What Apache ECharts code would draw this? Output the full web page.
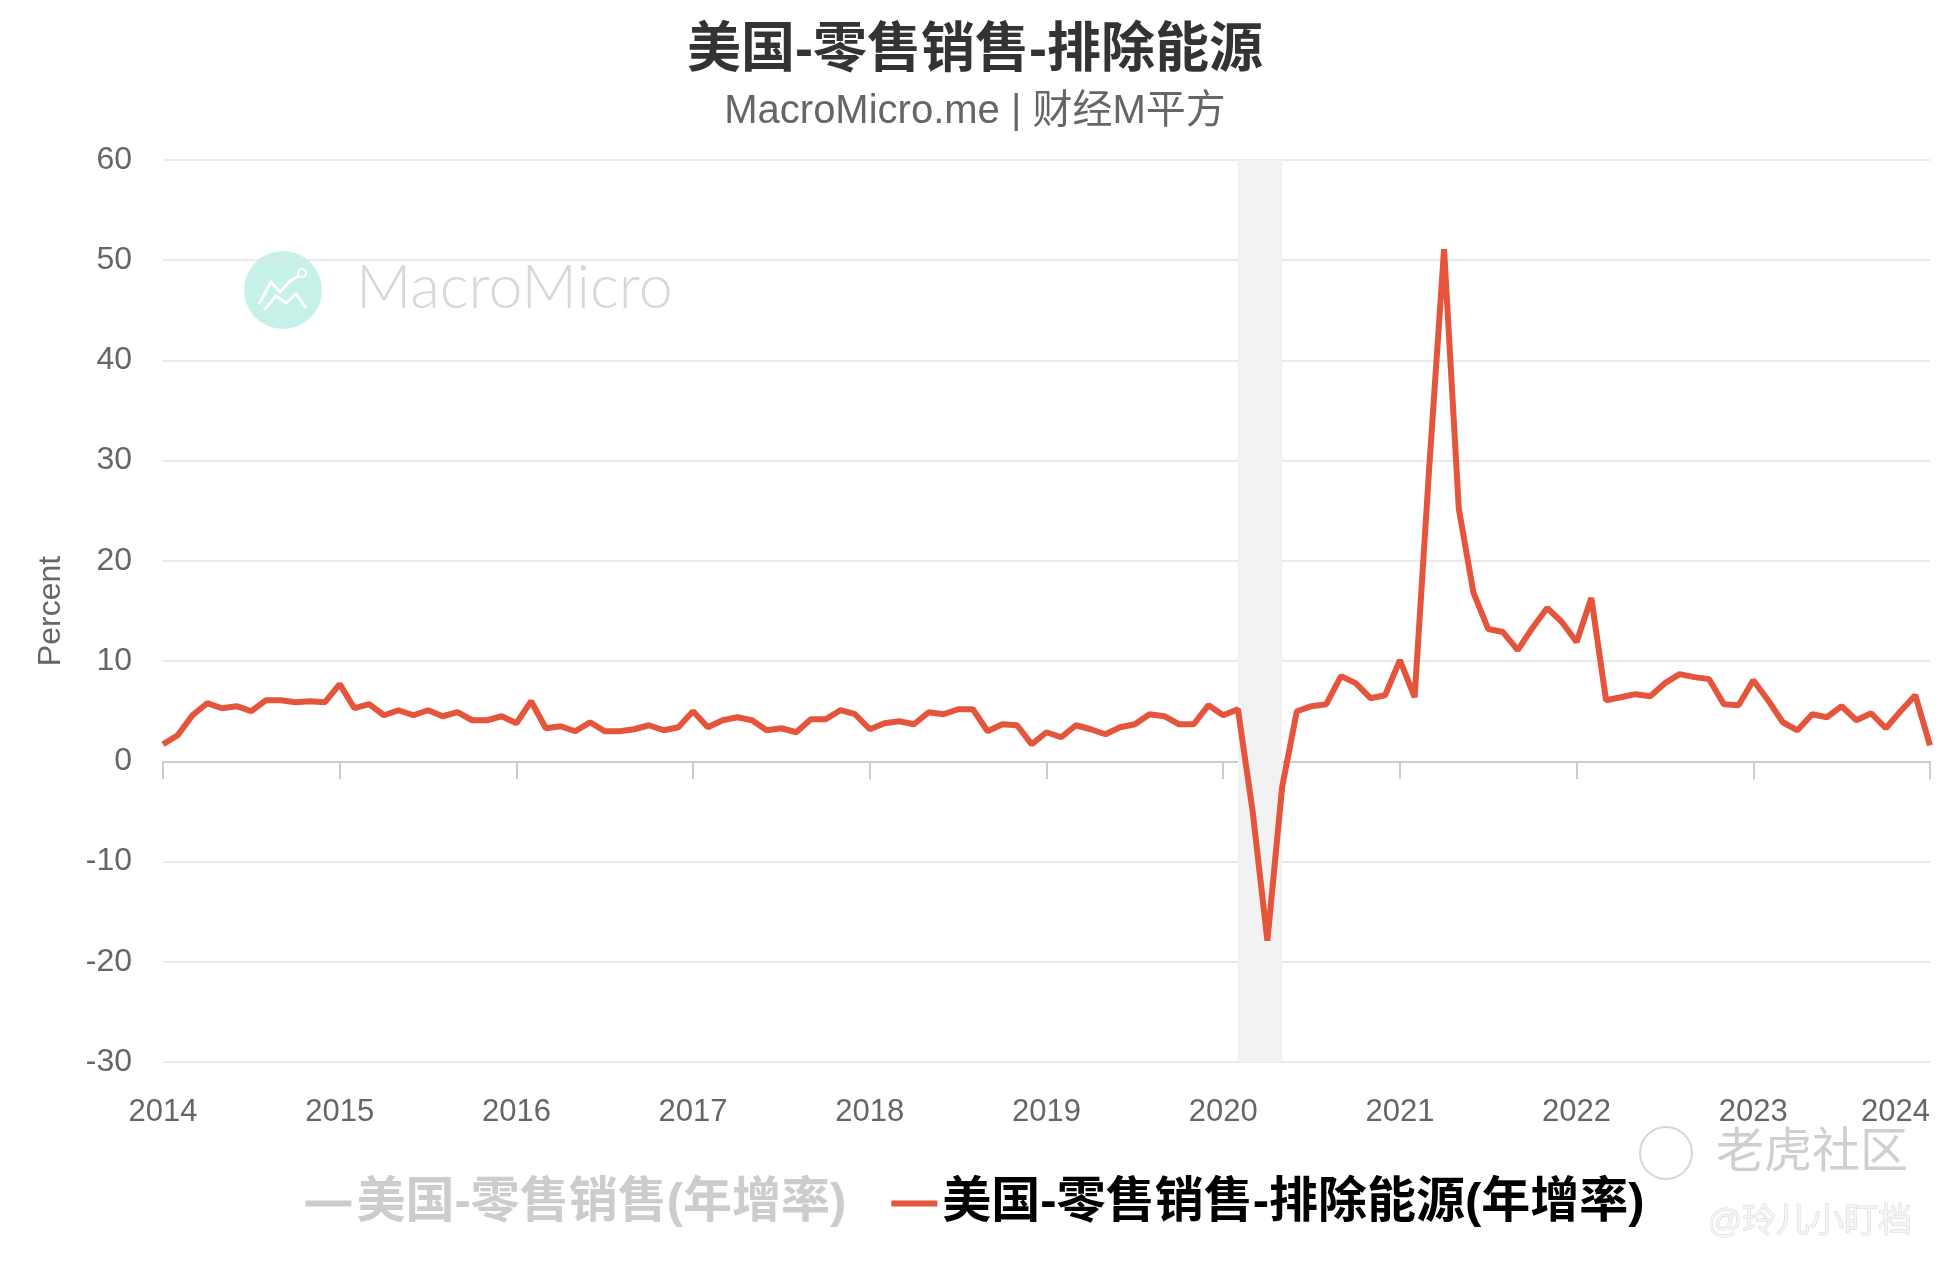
<!DOCTYPE html>
<html>
<head>
<meta charset="utf-8">
<title>美国-零售销售-排除能源</title>
<script src="https://cdn.jsdelivr.net/npm/echarts@6/dist/echarts.min.js"></script>
<style>
  html, body { margin: 0; padding: 0; background: #fff; }
  #chart { width: 1950px; height: 1270px; }
</style>
</head>
<body>
<div id="chart"></div>
<script>
// 月度数据：2014-01 ~ 2024-01，年增率 (%)
const startYear = 2014;
const retailExEnergy = [
  1.7, 2.6, 4.6, 5.8, 5.3, 5.5, 5.0, 6.1, 6.1, 5.9, 6.0, 5.9,    // 2014
  7.7, 5.3, 5.7, 4.6, 5.1, 4.6, 5.1, 4.5, 4.9, 4.1, 4.1, 4.5,    // 2015
  3.8, 6.0, 3.3, 3.5, 3.0, 3.9, 3.0, 3.0, 3.2, 3.6, 3.1, 3.4,    // 2016
  5.0, 3.4, 4.1, 4.4, 4.1, 3.1, 3.3, 2.9, 4.2, 4.2, 5.1, 4.7,    // 2017
  3.2, 3.8, 4.0, 3.7, 4.9, 4.7, 5.2, 5.2, 3.0, 3.7, 3.6, 1.7,    // 2018
  2.9, 2.4, 3.6, 3.2, 2.7, 3.4, 3.7, 4.7, 4.5, 3.7, 3.7, 5.6,    // 2019
  4.6, 5.2, -5.0, -17.9, -2.6, 5.0, 5.5, 5.7, 8.5, 7.8, 6.3, 6.6, // 2020
  10.1, 6.4, 29.5, 51.1, 25.2, 16.8, 13.2, 12.9, 11.1, 13.3, 15.3, 13.9, // 2021
  11.9, 16.3, 6.1, 6.4, 6.7, 6.5, 7.8, 8.7, 8.4, 8.2, 5.7, 5.6,  // 2022
  8.1, 6.1, 3.9, 3.1, 4.7, 4.4, 5.5, 4.1, 4.8, 3.3, 5.0, 6.6,    // 2023
  1.6                                                            // 2024
];
const retailTotal = []; // 图例中未选中，不绘制
const recession = ["2020-02", "2020-05"];
const yTicks = { min: -30, max: 60, interval: 10 };

const months = retailExEnergy.map((v, i) => {
  const y = startYear + Math.floor(i / 12);
  const m = (i % 12) + 1;
  return y + "-" + (m < 10 ? "0" + m : m);
});

const nameAll = "美国-零售销售(年增率)";
const nameEx = "美国-零售销售-排除能源(年增率)";
const lineColor = "#e5553c";
const font = "'Liberation Sans', 'Noto Sans CJK SC', sans-serif";

const options = {
  backgroundColor: "#fff",
  textStyle: { fontFamily: font },
  title: {
    text: "美国-零售销售-排除能源",
    subtext: "MacroMicro.me | 财经M平方",
    left: "center",
    top: 20,
    itemGap: 13,
    textStyle: { fontSize: 54, fontWeight: "bold", color: "#333", fontFamily: font },
    subtextStyle: { fontSize: 40, color: "#666", fontFamily: font },
  },
  legend: {
    data: [nameAll, nameEx],
    selected: { [nameAll]: false },
    left: "center",
    top: 1174,
    icon: "rect",
    itemWidth: 46,
    itemHeight: 6,
    itemGap: 45,
    inactiveColor: "#ccc",
    textStyle: { fontSize: 49, fontWeight: "bold", color: "#000", fontFamily: font },
  },
  graphic: [
    // MacroMicro 水印
    { type: "circle", z: -10, shape: { cx: 283, cy: 290, r: 39 }, style: { fill: "#c6f1e8" } },
    {
      type: "polyline", z: -9,
      shape: { points: [[259, 304], [271, 282], [280, 292], [290, 281], [299, 276]] },
      style: { stroke: "#fff", lineWidth: 3, fill: null },
    },
    {
      type: "polyline", z: -9,
      shape: { points: [[264, 310], [276, 296], [286, 303], [296, 294], [306, 308]] },
      style: { stroke: "#fff", lineWidth: 3, fill: null },
    },
    { type: "circle", z: -9, shape: { cx: 302, cy: 273, r: 4 }, style: { fill: null, stroke: "#fff", lineWidth: 2 } },
    {
      type: "text", z: -10, left: 356, top: 258,
      style: { text: "MacroMicro", fontSize: 61, fontWeight: 300, fontFamily: "Lato, sans-serif", fill: "#d8d8d8" },
    },
    // 平台水印
    { type: "circle", shape: { cx: 1666, cy: 1153, r: 26 }, style: { fill: null, stroke: "#d6d6d6", lineWidth: 2 } },
    {
      type: "text", left: 1716, top: 1130,
      style: { text: "老虎社区", fontSize: 48, fontFamily: font, fill: "#cfcfd3" },
    },
    {
      type: "text", left: 1707, top: 1205,
      style: { text: "@玲儿小盯档", fontSize: 34, fontFamily: font, fill: "#f4f4f4", stroke: "#d8d8d8", lineWidth: 1 },
    },
  ],
  grid: { left: 163, right: 20, top: 160, bottom: 208 },
  xAxis: {
    type: "category",
    data: months,
    boundaryGap: false,
    axisLine: { lineStyle: { color: "#ccc", width: 2 } },
    axisTick: {
      length: 18,
      interval: (idx) => idx % 12 === 0,
      lineStyle: { color: "#ccc", width: 2 },
    },
    axisLabel: {
      interval: (idx) => idx % 12 === 0,
      formatter: (v) => v.slice(0, 4),
      fontSize: 31,
      color: "#666",
      margin: 35,
      alignMaxLabel: "right",
    },
    splitLine: { show: false },
  },
  yAxis: {
    type: "value",
    min: yTicks.min,
    max: yTicks.max,
    interval: yTicks.interval,
    name: "Percent",
    nameLocation: "middle",
    nameGap: 96,
    nameTextStyle: { fontSize: 32, color: "#666" },
    axisLine: { show: false },
    axisTick: { show: false },
    axisLabel: { fontSize: 32, color: "#666", margin: 31 },
    splitLine: { lineStyle: { color: "#e3e3e3", width: 1.5 } },
  },
  series: [
    {
      name: nameAll,
      type: "line",
      data: retailTotal,
      showSymbol: false,
      itemStyle: { color: "#999" },
    },
    {
      name: nameEx,
      type: "line",
      data: retailExEnergy,
      showSymbol: false,
      lineStyle: { color: lineColor, width: 6 },
      itemStyle: { color: lineColor },
      markArea: {
        silent: true,
        itemStyle: { color: "#f2f2f2" },
        data: [[{ xAxis: recession[0] }, { xAxis: recession[1] }]],
      },
    },
  ],
};

const chart = echarts.init(document.getElementById("chart"));
chart.setOption(options);
window.addEventListener("resize", () => {
  chart.resize();
});
</script>
</body>
</html>
